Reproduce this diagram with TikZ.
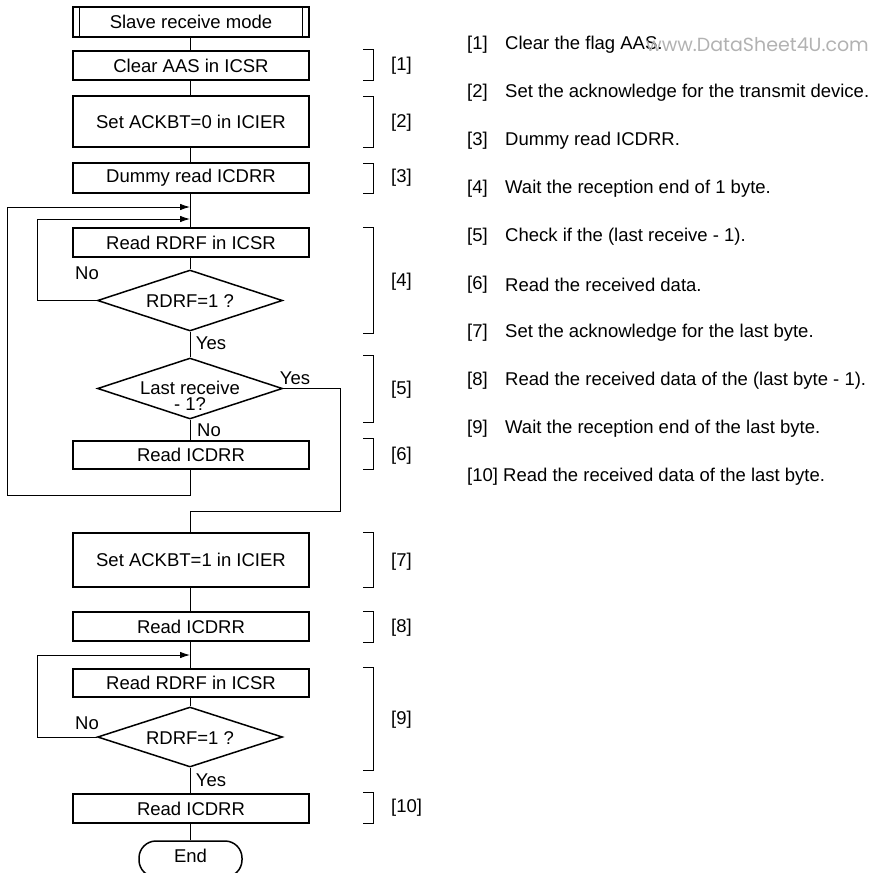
\documentclass[tikz,border=0pt]{standalone}
\usepackage{fontspec}
\setmainfont{Liberation Sans}
\newfontfamily\wmfont{Poppins}
\usetikzlibrary{shapes.geometric,arrows.meta}
\begin{document}
\begin{tikzpicture}[x=1pt,y=-1pt,
  font=\fontsize{18.5}{21}\selectfont,
  procbox/.style={draw,line width=1.5pt,minimum width=236pt,minimum height=29pt,inner sep=0pt},
  decbox/.style={draw,line width=1.5pt,shape=diamond,minimum width=185pt,minimum height=61pt,inner sep=0pt,aspect=3},
  termbox/.style={draw,line width=1.5pt,rounded corners=17pt,minimum width=103pt,minimum height=36pt,inner sep=0pt},
  conn/.style={line width=0.9pt},
  arr/.style={line width=0.9pt,-{Latex[length=10pt,width=6.5pt]}},
  brk/.style={line width=0.9pt},
  lbl/.style={inner sep=0pt}
]
\useasboundingbox (0,0) rectangle (892,873);

% main flow
\node[procbox,minimum height=30pt] (s0) at (191,22) {Slave receive mode};
\draw[line width=1pt] ([xshift=7pt]s0.north west) -- ([xshift=7pt]s0.south west);
\draw[line width=1pt] ([xshift=-7pt]s0.north east) -- ([xshift=-7pt]s0.south east);
\node[procbox] (b1) at (191,65.5) {Clear AAS in ICSR};
\node[procbox,minimum height=51pt] (b2) at (191,121.5) {Set ACKBT=0 in ICIER};
\node[procbox,minimum height=30pt] (b3) at (191,178) {Dummy read ICDRR};
\coordinate (m1) at (190,207);
\coordinate (m2) at (190,219);
\node[procbox] (b4) at (191,242.5) {Read RDRF in ICSR};
\node[decbox] (d1) at (190,300.5) {};
\node[lbl] (d1t) at (190,301) {RDRF=1 ?};
\node[decbox] (d2) at (190,388.5) {};
\node[lbl] (d2a) at (190,388) {Last receive};
\node[lbl] (d2b) at (190,404.5) {- 1?};
\node[procbox,minimum height=28pt] (b6) at (191,455) {Read ICDRR};
\node[procbox,minimum height=54pt] (b7) at (191,560) {Set ACKBT=1 in ICIER};
\node[procbox] (b8) at (191,626.5) {Read ICDRR};
\coordinate (m3) at (190,655);
\node[procbox,minimum height=28pt] (b9) at (191,683) {Read RDRF in ICSR};
\node[decbox,minimum height=60pt] (d3) at (190,737) {};
\node[lbl] (d3t) at (190,738) {RDRF=1 ?};
\node[procbox] (b10) at (191,808.5) {Read ICDRR};
\node[termbox] (e) at (190.5,859) {};
\node[lbl] (et) at (190.5,856) {End};

% connectors
\draw[conn] (s0.south -| m1) -- (b1.north -| m1);
\draw[conn] (b1.south -| m1) -- (b2.north -| m1);
\draw[conn] (b2.south -| m1) -- (b3.north -| m1);
\draw[conn] (b3.south -| m1) -- (b4.north -| m1);
\draw[conn] (b4.south -| m1) -- (d1.north);
\draw[conn] (d1.south) -- (d2.north);
\draw[conn] (d2.south) -- (b6.north -| m1);
\draw[conn] (b7.south -| m1) -- (b8.north -| m1);
\draw[conn] (b8.south -| m1) -- (b9.north -| m1);
\draw[conn] (b9.south -| m1) -- (d3.north);
\draw[conn] (d3.south) -- (b10.north -| m1);
\draw[conn] (b10.south -| e) -- (e.north);

\coordinate (l1) at (37,300.5);
\draw[arr] (d1.west) -- (l1) |- (m2);
\coordinate (l2) at (7,495);
\draw[arr] (b6.south -| m1) |- (l2) |- (m1);
\coordinate (l3) at (340,511);
\draw[conn] (d2.east) -| (l3) -| (b7.north -| m1);
\coordinate (l4) at (37,737);
\draw[arr] (d3.west) -- (l4) |- (m3);

% branch labels
\node[lbl] (n1) at (87,273) {No};
\node[lbl] (y1) at (211,343) {Yes};
\node[lbl] (y2) at (295,378) {Yes};
\node[lbl] (n2) at (209,430) {No};
\node[lbl] (n3) at (87,723) {No};
\node[lbl] (y3) at (211,780) {Yes};

% brackets
\foreach \t/\b/\ly/\txt in {49/80/66/[1],96/147/123/[2],163/193/178/[3],227/333/282/[4],355/422/390/[5],438/469/456/[6],532/587/562/[7],611/642/628/[8],667/770/720/[9],792/823/808/[10]}{
  \draw[brk] (363,\t) -- (373,\t) -- (373,\b) -- (363,\b);
  \node[lbl,anchor=west] at (391,\ly) {\txt};
}

% right column
\foreach \n/\txt [count=\i from 0] in {
  [1]/Clear the flag AAS.,
  [2]/Set the acknowledge for the transmit device.,
  [3]/Dummy read ICDRR.,
  [4]/Wait the reception end of 1 byte.,
  [5]/Check if the (last receive - 1).,
  [6]/Read the received data.,
  [7]/Set the acknowledge for the last byte.,
  [8]/Read the received data of the (last byte - 1).,
  [9]/Wait the reception end of the last byte.}{
  \node[lbl,anchor=west] at (467,45+48*\i) {\n};
  \node[lbl,anchor=west] at (505,45+48*\i) {\txt};
}
\node[lbl,anchor=west] (r10) at (467,477) {[10] Read the received data of the last byte.};

\node[lbl,anchor=base west,text=black!30,font=\wmfont\fontsize{19}{21}\selectfont] (wm) at (646,51) {www.DataSheet4U.com};
\end{tikzpicture}
\end{document}
